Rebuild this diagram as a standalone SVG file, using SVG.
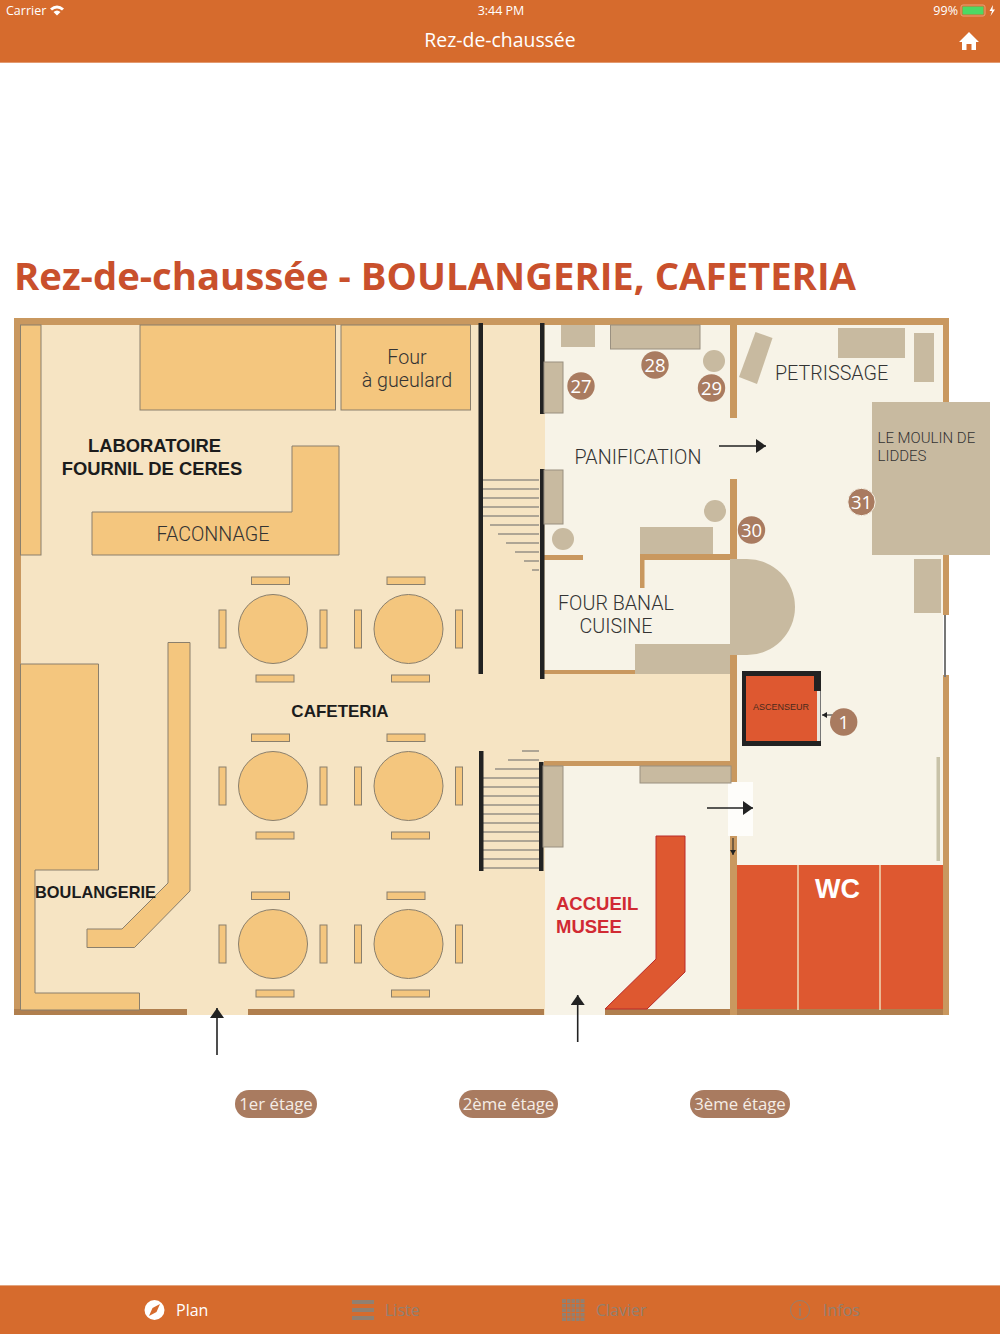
<svg xmlns="http://www.w3.org/2000/svg" width="1000" height="1334" viewBox="0 0 1000 1334">
<style>
.bar{fill:#d66b2d}
.wh{fill:#fff;font-family:"Open Sans","Liberation Sans",sans-serif}
.floor{fill:#f6e4c3}
.cream{fill:#f7f3e7}
.wall{fill:#c9985f}
.wallb{fill:#b07f4e}
.blk{fill:#222}
.f{fill:#f4c67e;stroke:#8a7f6c;stroke-width:1}
.t{fill:#c8baa0}
.ts{fill:#c8baa0;stroke:#9a9080;stroke-width:1}
.red{fill:#de5830}
.step{stroke:#666;stroke-width:1;fill:none}
.lab{font-family:Roboto,"Open Sans",sans-serif;font-weight:300;fill:#333;font-size:19.700px}
.lab2{font-family:Roboto,"Open Sans",sans-serif;font-weight:300;fill:#333;font-size:15px}
.bold{font-family:"Liberation Sans",sans-serif;font-weight:700;fill:#1c1c1c;font-size:18.400px}
.badge{fill:#a97b60}
.bt{fill:#fff;font-family:"Open Sans",sans-serif;font-size:18.500px;text-anchor:middle}
.pill{fill:#a97b60}
.pt{fill:#f5ede6;font-family:"Open Sans",sans-serif;font-size:16.800px;text-anchor:middle}
.mid{text-anchor:middle}
.off{fill:#918071;font-family:"Open Sans",sans-serif;font-size:16px}
.arr{stroke:#222;stroke-width:1.600;fill:none}
.acc{font-family:"Liberation Sans",sans-serif;font-weight:700;font-size:18.500px;fill:#d12a33}
</style>
<defs>
<marker id="head" markerUnits="userSpaceOnUse" markerWidth="14" markerHeight="16" refX="10" refY="7" orient="auto"><path d="M0 0L10 7L0 14Z" fill="#222"/></marker>
<marker id="small" markerUnits="userSpaceOnUse" markerWidth="7" markerHeight="7" refX="5" refY="3" orient="auto"><path d="M0 0L5 3L0 6Z" fill="#222"/></marker>
<g id="tbl">
<circle cx="0" cy="0" r="34.500" class="f"/>
<rect x="-54" y="-19" width="7" height="38" class="f"/>
<rect x="47" y="-19" width="7" height="38" class="f"/>
<rect x="-21.500" y="-52" width="38" height="7.500" class="f"/>
<rect x="-17" y="46" width="38" height="7" class="f"/>
</g>
</defs>
<rect width="1000" height="1334" fill="#fff"/>
<g id="header">
<rect class="bar" width="1000" height="62"/>
<rect y="62" width="1000" height="1" fill="#e39a70"/>
<text x="6" y="15" class="wh" font-size="12.500">Carrier</text>
<path d="M50 8.500Q57 2.500 64 8.500L62 10.500Q57 6.500 52 10.500ZM53.500 12Q57 9 60.500 12L57 15.500Z" fill="#fff"/>
<text x="501" y="15" class="wh mid" font-size="12.500">3:44 PM</text>
<text x="958" y="15" class="wh" font-size="12.500" text-anchor="end">99%</text>
<rect x="961" y="5" width="24" height="11" rx="2" fill="none" stroke="#e9a27a"/>
<rect x="962.500" y="6.500" width="21" height="8" fill="#4cd964"/>
<path d="M993 5L989.500 11H992L990.500 16L995 9.500H992.500Z" fill="#fff"/>
<text x="500" y="47" class="wh mid" font-size="19.400">Rez-de-chaussée</text>
<path d="M969 32L979 42H976V50H971.500V44H966.500V50H962V42H959Z" fill="#fff"/>
</g>
<text id="title" x="14" y="290" font-family="Open Sans,sans-serif" font-weight="700" font-size="38" fill="#c9502c" textLength="842" lengthAdjust="spacingAndGlyphs">Rez-de-chaussée - BOULANGERIE, CAFETERIA</text>
<g id="plan-base">
<rect class="floor" x="14" y="318" width="531" height="697"/>
<rect class="cream" x="545" y="325" width="398" height="690"/>
<rect class="floor" x="544" y="674" width="186" height="88"/>
<rect class="wall" x="14" y="318" width="935" height="7"/>
<rect class="wall" x="14" y="318" width="7" height="697"/>
<rect class="wall" x="943" y="318" width="6" height="84"/>
<rect class="wall" x="943" y="555" width="6" height="60"/>
<rect class="wall" x="943" y="675" width="6" height="340"/>
<rect x="944" y="615" width="2" height="62" fill="#777"/>
<rect class="wallb" x="14" y="1009" width="173" height="6"/>
<rect class="wallb" x="248" y="1009" width="296" height="6"/>
<rect class="wallb" x="605" y="1009" width="125" height="6"/>
<rect class="wallb" x="736" y="1009" width="207" height="6"/>
<rect class="wall" x="730" y="325" width="7" height="93"/>
<rect class="wall" x="730" y="479" width="7" height="81"/>
<rect class="wall" x="730" y="655" width="7" height="127"/>
<rect class="wall" x="730" y="836" width="7" height="179"/>
<rect class="wall" x="640" y="554" width="97" height="6"/>
<rect class="wall" x="640" y="554" width="4.500" height="34"/>
<rect class="wall" x="544" y="555" width="39" height="5"/>
<rect class="wall" x="544" y="670" width="91" height="4"/>
<rect class="wall" x="544" y="761" width="187" height="5"/>
<rect x="728" y="782" width="25" height="54" fill="#fefdfa"/>
<rect x="936.500" y="757" width="3.500" height="104" fill="#c8c2a8"/>
</g>
<g id="stairs">
<path class="step" d="M483 480H539M483 489H539M483 498H539M483 507H539M483 516H539M490 525H539M498 534H539M506 543H539M515 552H539M524 561H539M532 570H539"/>
<path class="step" d="M483 778H540M483 787H540M483 796H540M483 805H540M483 814H540M483 823H540M483 832H540M483 841H540M483 850H540M483 859H540M483 868H540M495 769H540M508 760H539M522 751H539"/>
<rect class="blk" x="478.500" y="323" width="4.500" height="351"/>
<rect class="blk" x="540" y="323" width="4.500" height="91"/>
<rect class="blk" x="540" y="469" width="4.500" height="210"/>
<rect class="blk" x="479" y="751" width="4.500" height="120"/>
<rect class="blk" x="539" y="762" width="4.500" height="109"/>
</g>
<g id="laboratoire">
<rect class="f" x="20.500" y="325" width="20.500" height="230"/>
<rect class="f" x="140" y="325" width="195.500" height="85"/>
<text class="bold mid" x="154.500" y="452">LABORATOIRE</text>
<text class="bold mid" x="152" y="475">FOURNIL DE CERES</text>
</g>
<g id="four-gueulard">
<rect class="f" x="341" y="325" width="129.500" height="85"/>
<text class="lab mid" x="407" y="364">Four</text>
<text class="lab mid" x="407" y="387">à gueulard</text>
</g>
<g id="faconnage">
<path class="f" d="M92 512H292V446H339V555H92Z"/>
<text class="lab mid" x="213" y="541">FACONNAGE</text>
</g>
<g id="cafeteria">
<use href="#tbl" x="273" y="629"/>
<use href="#tbl" x="408.500" y="629"/>
<use href="#tbl" x="273" y="786"/>
<use href="#tbl" x="408.500" y="786"/>
<use href="#tbl" x="273" y="944"/>
<use href="#tbl" x="408.500" y="944"/>
<text class="bold mid" x="340" y="717" style="font-size:17px">CAFETERIA</text>
</g>
<g id="boulangerie">
<path class="f" d="M20.500 664H98.500V870H35V993H139.500V1010H20.500Z"/>
<path class="f" d="M168 642.500H190V891L134.500 947.500H87V929H122L168 883Z"/>
<text class="bold" x="35" y="898" style="font-size:17px" textLength="121" lengthAdjust="spacingAndGlyphs">BOULANGERIE</text>
</g>
<g id="panification">
<rect class="t" x="561" y="325" width="34" height="22"/>
<rect class="ts" x="610.500" y="325" width="89.500" height="24"/>
<rect class="ts" x="544" y="362" width="19" height="51"/>
<rect class="ts" x="544" y="470" width="19" height="54"/>
<circle class="t" cx="714" cy="361" r="11"/>
<circle class="t" cx="715" cy="511" r="11"/>
<circle class="t" cx="563" cy="539" r="11"/>
<text class="lab mid" x="638" y="464">PANIFICATION</text>
</g>
<g id="petrissage">
<path class="t" d="M755.500 332L772.500 338L757 384L739 377Z"/>
<rect class="t" x="838" y="328" width="67" height="30"/>
<rect class="t" x="914" y="333" width="20" height="49"/>
<text class="lab" x="775" y="380">PETRISSAGE</text>
</g>
<g id="moulin">
<rect class="t" x="872" y="402" width="118" height="153"/>
<rect class="t" x="914" y="559" width="27" height="54"/>
<text class="lab2" x="877.500" y="443">LE MOULIN DE</text>
<text class="lab2" x="877.500" y="461">LIDDES</text>
</g>
<g id="four-banal">
<rect class="t" x="640" y="527" width="73" height="27"/>
<rect class="t" x="635" y="644" width="95" height="30"/>
<path class="t" d="M730 559H747A48 48 0 0 1 747 655H730Z"/>
<text class="lab mid" x="616" y="610">FOUR BANAL</text>
<text class="lab mid" x="616" y="633">CUISINE</text>
</g>
<g id="ascenseur">
<path class="blk" d="M742 671H821V691H817V741H821V746H742Z"/>
<rect class="red" x="746" y="676" width="68" height="65"/>
<rect x="814" y="691" width="3" height="50" fill="#de5830"/>
<rect x="817" y="691" width="3" height="50" fill="#e9e6dc"/>
<rect x="820" y="691" width="1" height="50" fill="#777"/>
<text x="781" y="710" text-anchor="middle" font-family="Liberation Sans,sans-serif" font-size="9" fill="#4a2a1c">ASCENSEUR</text>
</g>
<g id="accueil">
<rect class="ts" x="640" y="766" width="91" height="17"/>
<rect class="ts" x="543" y="766" width="20" height="81"/>
<path d="M656 836H685V972L647 1009H605L656 959Z" fill="#de5830" stroke="#b92a2a" stroke-width="1"/>
<text x="556" y="910" class="acc">ACCUEIL</text>
<text x="556" y="933" class="acc">MUSEE</text>
</g>
<g id="wc">
<rect class="red" x="737" y="865" width="206" height="144"/>
<path d="M798 865V1010M880 865V1010" stroke="#efd9b5" stroke-width="1.500"/>
<text x="837.500" y="898" text-anchor="middle" font-family="Liberation Sans,sans-serif" font-weight="700" font-size="27" fill="#fff">WC</text>
</g>
<g id="connectors">
<path class="arr" d="M217 1055V1008" marker-end="url(#head)"/>
<path class="arr" d="M577.700 1042V995" marker-end="url(#head)"/>
<path class="arr" d="M719 446H766" marker-end="url(#head)"/>
<path class="arr" d="M707 808H753" marker-end="url(#head)"/>
<path d="M733 838V855" stroke="#222" stroke-width="1" marker-end="url(#small)"/>
<path d="M838 715H822" stroke="#222" stroke-width="1" marker-end="url(#small)"/>
</g>
<g id="badge-27"><circle class="badge" cx="581" cy="386" r="13.700"/><text class="bt" x="581" y="393">27</text></g>
<g id="badge-28"><circle class="badge" cx="655" cy="365" r="13.700"/><text class="bt" x="655" y="372">28</text></g>
<g id="badge-29"><circle class="badge" cx="711.500" cy="388" r="13.700"/><text class="bt" x="711.500" y="395">29</text></g>
<g id="badge-30"><circle class="badge" cx="751.500" cy="530" r="13.700"/><text class="bt" x="751.500" y="537">30</text></g>
<g id="badge-31"><circle class="badge" cx="861.500" cy="502" r="13.700" stroke="#f7f3e7"/><text class="bt" x="861.500" y="509">31</text></g>
<g id="badge-1"><circle class="badge" cx="843.700" cy="722" r="13.700"/><text class="bt" x="843.700" y="729">1</text></g>
<g id="etage-1"><rect class="pill" x="235" y="1090" width="82" height="28" rx="14"/><text class="pt" x="276" y="1110">1er étage</text></g>
<g id="etage-2"><rect class="pill" x="459" y="1090" width="99" height="28" rx="14"/><text class="pt" x="508.500" y="1110">2ème étage</text></g>
<g id="etage-3"><rect class="pill" x="690" y="1090" width="100" height="28" rx="14"/><text class="pt" x="740" y="1110">3ème étage</text></g>
<g id="tabbar">
<rect class="bar" y="1286" width="1000" height="48"/>
<rect y="1285" width="1000" height="1" fill="#e3a47e"/>
<circle cx="154.500" cy="1310" r="10" fill="#fff"/>
<path d="M160 1304L156.500 1312L149 1316L152.500 1308Z" fill="#d66b2d"/>
<text x="176" y="1316" class="wh" font-size="16">Plan</text>
<path d="M352 1300h22v4h-22zM352 1308h22v4h-22zM352 1316h22v4h-22z" fill="#918071"/>
<text x="385" y="1316" class="off">Liste</text>
<path d="M562 1299h22.500v22h-22.500z" fill="#918071"/>
<path d="M566.500 1299v22M571 1299v22M575.500 1299v22M580 1299v22M562 1303.500h23M562 1308h23M562 1312.500h23M562 1317h23" stroke="#d66b2d" stroke-width="1"/>
<text x="596" y="1316" class="off">Clavier</text>
<circle cx="800" cy="1310" r="9.500" fill="none" stroke="#918071" stroke-width="1"/>
<path d="M800 1308v8M800 1304v2" stroke="#918071" stroke-width="1.500"/>
<text x="823" y="1316" class="off">Infos</text>
</g>
</svg>
